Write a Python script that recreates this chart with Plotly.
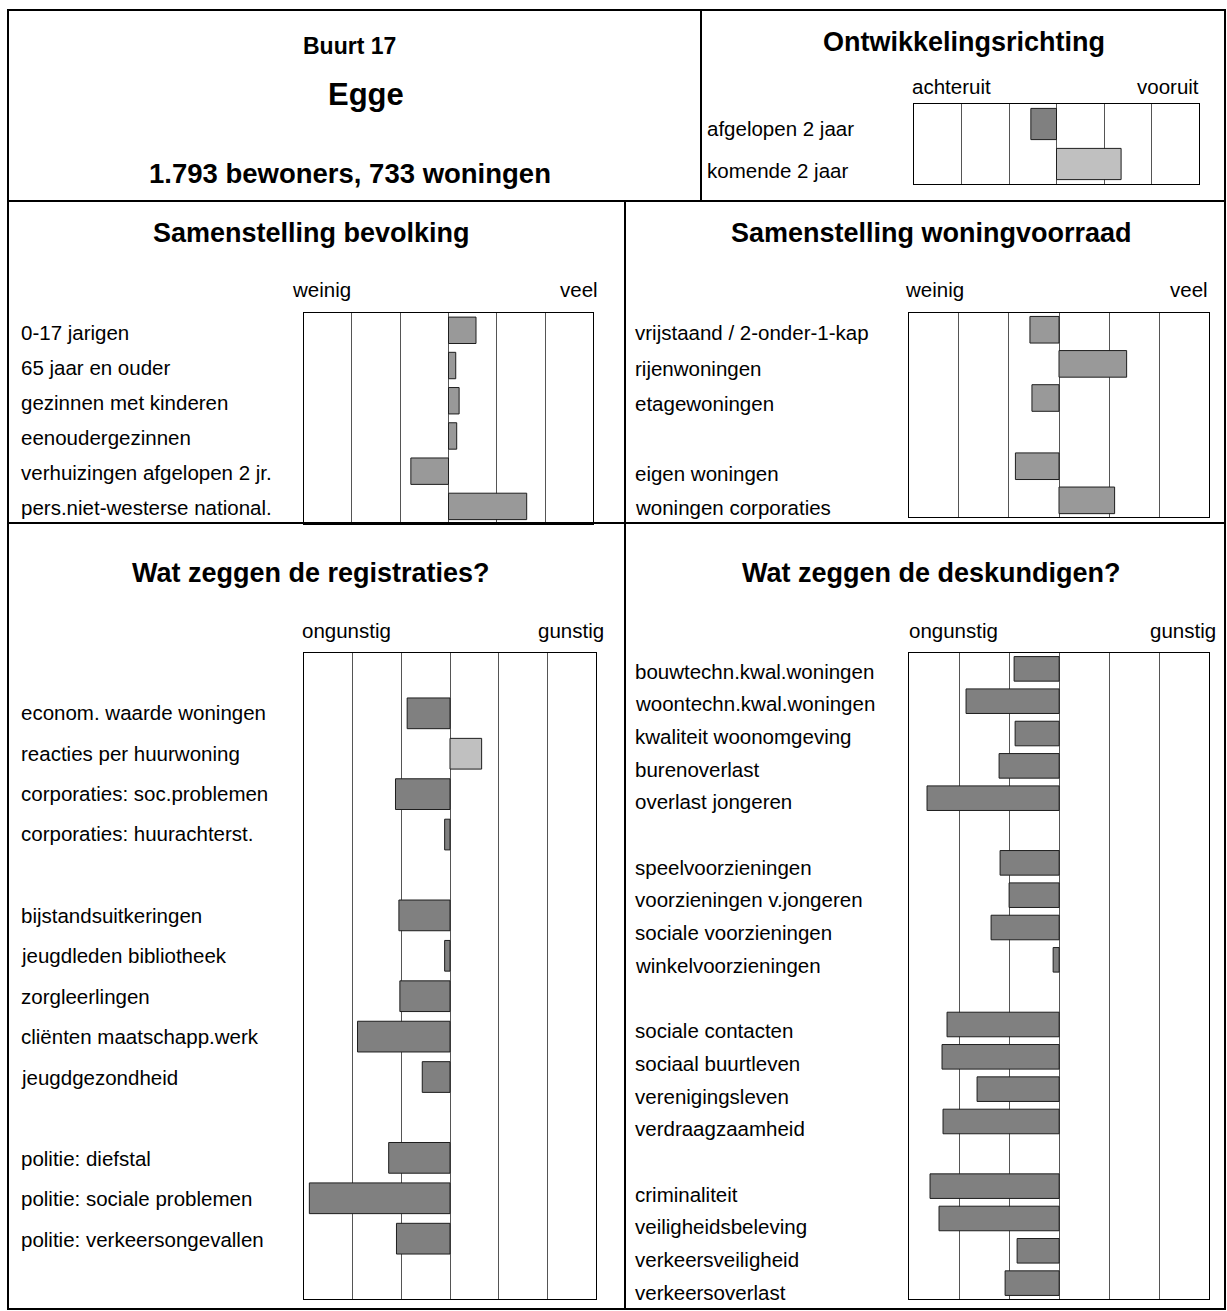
import plotly.graph_objects as go

# ---------------------------------------------------------------- data
buurt_nummer = "Buurt 17"
buurt_naam = "Egge"
buurt_kerncijfers = "1.793 bewoners, 733 woningen"

ontwikkeling_groepen = [["afgelopen 2 jaar", "komende 2 jaar"]]
ontwikkeling_waarden = [[-0.54, 1.36]]

bevolking_groepen = [[
    "0-17 jarigen",
    "65 jaar en ouder",
    "gezinnen met kinderen",
    "eenoudergezinnen",
    "verhuizingen afgelopen 2 jr.",
    "pers.niet-westerse national.",
]]
bevolking_waarden = [[0.57, 0.15, 0.22, 0.17, -0.78, 1.62]]

woning_groepen = [
    ["vrijstaand / 2-onder-1-kap", "rijenwoningen", "etagewoningen"],
    ["eigen woningen", "woningen corporaties"],
]
woning_waarden = [[-0.58, 1.35, -0.54], [-0.87, 1.11]]

registratie_groepen = [
    ["econom. waarde woningen", "reacties per huurwoning",
     "corporaties: soc.problemen", "corporaties: huurachterst."],
    ["bijstandsuitkeringen", "jeugdleden bibliotheek", "zorgleerlingen",
     "cliënten maatschapp.werk", "jeugdgezondheid"],
    ["politie: diefstal", "politie: sociale problemen",
     "politie: verkeersongevallen"],
]
registratie_waarden = [
    [-0.88, 0.65, -1.12, -0.11],
    [-1.05, -0.11, -1.03, -1.90, -0.57],
    [-1.26, -2.89, -1.10],
]

deskundigen_groepen = [
    ["bouwtechn.kwal.woningen", "woontechn.kwal.woningen",
     "kwaliteit woonomgeving", "burenoverlast", "overlast jongeren"],
    ["speelvoorzieningen", "voorzieningen v.jongeren",
     "sociale voorzieningen", "winkelvoorzieningen"],
    ["sociale contacten", "sociaal buurtleven", "verenigingsleven",
     "verdraagzaamheid"],
    ["criminaliteit", "veiligheidsbeleving", "verkeersveiligheid",
     "verkeersoverlast"],
]
deskundigen_waarden = [
    [-0.90, -1.86, -0.88, -1.20, -2.64],
    [-1.18, -1.00, -1.36, -0.12],
    [-2.24, -2.34, -1.64, -2.32],
    [-2.58, -2.40, -0.84, -1.08],
]

# ---------------------------------------------------------------- page setup
W, H = 1227, 1311
FONT = "Liberation Sans, Arial, Helvetica, sans-serif"
LABEL_SIZE = 20.5
HEAD_SIZE = 27
GRID = "#555555"
DARK = "#808080"
MID = "#999999"
LIGHT = "#c0c0c0"
EDGE = "#1e1e1e"


def px(x):
    return x / W


def py(y):
    return 1 - y / H


def layout_slots(groups, values, lead=0, trail=0):
    """Place the items of each group on consecutive rows, one empty row between groups."""
    rows, labels, vals = [], [], []
    slot = lead
    for g, (names, nums) in enumerate(zip(groups, values)):
        if g > 0:
            slot += 1
        for name, v in zip(names, nums):
            rows.append(slot)
            labels.append(name)
            vals.append(v)
            slot += 1
    return rows, labels, vals, slot + trail


panels = [
    dict(groups=ontwikkeling_groepen, values=ontwikkeling_waarden, lead=0, trail=0,
         frame=(914, 104, 1199, 184), label_x=705, label_top=128, label_step=42,
         ends=("achteruit", "vooruit"), end_y=86, end_left=910, end_right=1201,
         colouring="sign", width=0.78),
    dict(groups=bevolking_groepen, values=bevolking_waarden, lead=0, trail=0,
         frame=(303.7, 312.7, 593.3, 524), label_x=19, label_top=332, label_step=35.2,
         ends=("weinig", "veel"), end_y=290, end_left=290, end_right=600,
         colouring="mid", width=0.75),
    dict(groups=woning_groepen, values=woning_waarden, lead=0, trail=0,
         frame=(908.7, 312.7, 1209.3, 517.4), label_x=633, label_top=333, label_step=35,
         ends=("weinig", "veel"), end_y=290, end_left=903, end_right=1210,
         colouring="mid", width=0.78),
    dict(groups=registratie_groepen, values=registratie_waarden, lead=1, trail=1,
         frame=(304, 652.7, 596, 1299.3), label_x=19, label_top=672, label_step=40.5,
         ends=("ongunstig", "gunstig"), end_y=630, end_left=300, end_right=606,
         colouring="sign", width=0.76),
    dict(groups=deskundigen_groepen, values=deskundigen_waarden, lead=0, trail=0,
         frame=(909, 652.7, 1209.3, 1299.3), label_x=633, label_top=671, label_step=32.7,
         ends=("ongunstig", "gunstig"), end_y=630, end_left=907, end_right=1218,
         colouring="sign", width=0.76),
]

fig = go.Figure()
annotations = []
layout_axes = {}


def text(x, y, s, size=LABEL_SIZE, anchor="left", bold=False):
    annotations.append(dict(
        x=px(x), y=py(y), xref="paper", yref="paper",
        text=f"<b>{s}</b>" if bold else s, showarrow=False,
        xanchor=anchor, yanchor="middle",
        font=dict(family=FONT, size=size, color="black"),
    ))


for i, p in enumerate(panels, start=1):
    sfx = "" if i == 1 else str(i)
    rows, labels, vals, n = layout_slots(p["groups"], p["values"], p["lead"], p["trail"])
    if p["colouring"] == "sign":
        colours = [LIGHT if v > 0 else DARK for v in vals]
    else:
        colours = [MID] * len(vals)

    fig.add_trace(go.Bar(
        x=vals, y=rows, orientation="h", width=p["width"],
        marker=dict(color=colours, line=dict(color=EDGE, width=1)),
        xaxis=f"x{sfx}", yaxis=f"y{sfx}", hoverinfo="skip",
    ))

    x0, y0, x1, y1 = p["frame"]
    layout_axes[f"xaxis{sfx}"] = dict(
        domain=[px(x0), px(x1)], range=[-3, 3], anchor=f"y{sfx}",
        tickvals=[-2, -1, 0, 1, 2], showgrid=True, gridcolor=GRID, gridwidth=1,
        zeroline=False, showticklabels=False, ticks="",
        showline=True, mirror=True, linecolor="black", linewidth=1, fixedrange=True,
    )
    layout_axes[f"yaxis{sfx}"] = dict(
        domain=[py(y1), py(y0)], range=[n - 0.5, -0.5], anchor=f"x{sfx}",
        showgrid=False, zeroline=False, showticklabels=False, ticks="",
        showline=True, mirror=True, linecolor="black", linewidth=1, fixedrange=True,
    )

    for r, lab in zip(rows, labels):
        text(p["label_x"], p["label_top"] + p["label_step"] * r, lab)
    text(p["end_left"], p["end_y"], p["ends"][0], anchor="left")
    text(p["end_right"], p["end_y"], p["ends"][1], anchor="right")

# headings
text(349, 46, buurt_nummer, size=23, anchor="center", bold=True)
text(366, 95, buurt_naam, size=31, anchor="center", bold=True)
text(350, 173, buurt_kerncijfers, size=27.5, anchor="center", bold=True)
text(964, 42, "Ontwikkelingsrichting", size=HEAD_SIZE, anchor="center", bold=True)
text(311, 233, "Samenstelling bevolking", size=HEAD_SIZE, anchor="center", bold=True)
text(931, 233, "Samenstelling woningvoorraad", size=HEAD_SIZE, anchor="center", bold=True)
text(311, 573, "Wat zeggen de registraties?", size=HEAD_SIZE, anchor="center", bold=True)
text(932, 573, "Wat zeggen de deskundigen?", size=HEAD_SIZE, anchor="center", bold=True)

# outer frame and cell dividers
BORDER = dict(color="black", width=2)
shapes = [
    dict(type="rect", xref="paper", yref="paper", x0=px(8), x1=px(1225),
         y0=py(1309), y1=py(10), line=BORDER),
    dict(type="line", xref="paper", yref="paper", x0=px(8), x1=px(1225),
         y0=py(201), y1=py(201), line=BORDER),
    dict(type="line", xref="paper", yref="paper", x0=px(8), x1=px(1225),
         y0=py(523), y1=py(523), line=BORDER),
    dict(type="line", xref="paper", yref="paper", x0=px(701), x1=px(701),
         y0=py(10), y1=py(201), line=BORDER),
    dict(type="line", xref="paper", yref="paper", x0=px(625), x1=px(625),
         y0=py(201), y1=py(1309), line=BORDER),
]

fig.update_layout(
    width=W, height=H, margin=dict(l=0, r=0, t=0, b=0),
    paper_bgcolor="white", plot_bgcolor="white",
    showlegend=False, annotations=annotations, shapes=shapes,
    **layout_axes,
)

fig.write_html("out.html", config={"displayModeBar": False, "staticPlot": True})
